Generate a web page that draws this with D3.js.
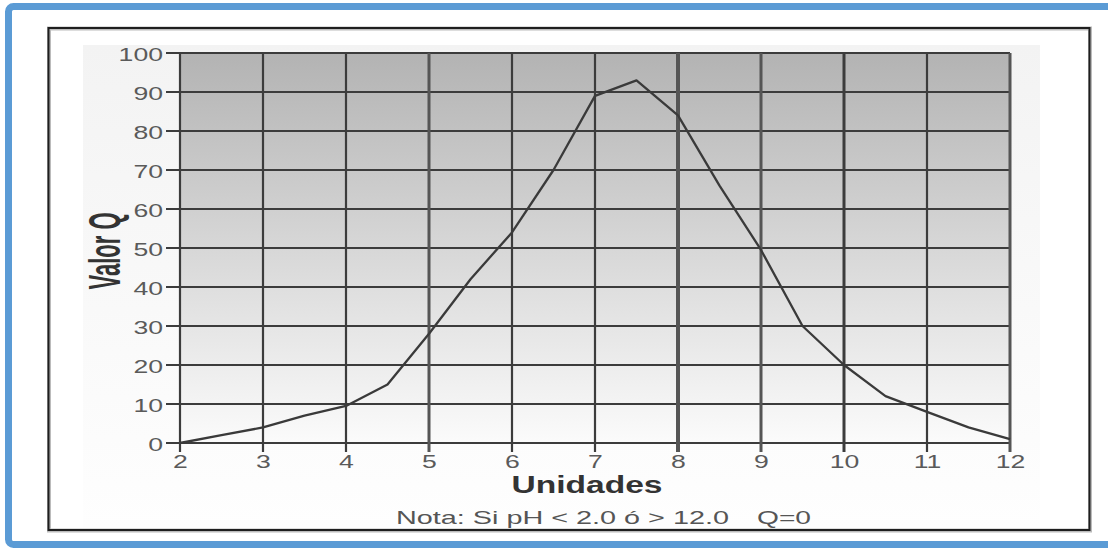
<!DOCTYPE html>
<html>
<head>
<meta charset="utf-8">
<script src="https://cdn.jsdelivr.net/npm/d3@7"></script>
<style>
  html, body { margin: 0; padding: 0; background: #fff; }
  svg { display: block; }
  text { font-family: "Liberation Sans", Arial, sans-serif; }
</style>
</head>
<body>
<svg id="chart" width="1108" height="548"></svg>
<script>
// ---- data ----
const phUnits = [2, 2.5, 3, 3.5, 4, 4.5, 5, 5.5, 6, 6.5, 7, 7.5, 8, 8.5, 9, 9.5, 10, 10.5, 11, 11.5, 12];
const qValues = [0, 2, 4, 7, 9.5, 15, 28, 42, 54, 70, 89, 93, 84, 66, 49.5, 30, 20, 12, 8, 4, 1];
const xTicks = [2, 3, 4, 5, 6, 7, 8, 9, 10, 11, 12];
const yTicks = [0, 10, 20, 30, 40, 50, 60, 70, 80, 90, 100];
const xTitle = "Unidades";
const yTitle = "Valor Q";
const noteText = "Nota: Si pH < 2.0 ó > 12.0";
const noteResult = "Q=0";

const svg = d3.select("#chart");
const x = d3.scaleLinear().domain([2, 12]).range([180, 1010]);
const y = d3.scaleLinear().domain([0, 100]).range([443, 53]);

const defs = svg.append("defs");
const g1 = defs.append("linearGradient").attr("id", "plotGrad").attr("x1", 0).attr("y1", 0).attr("x2", 0).attr("y2", 1);
g1.append("stop").attr("offset", "0%").attr("stop-color", "#b3b3b3");
g1.append("stop").attr("offset", "100%").attr("stop-color", "#fbfbfb");
const g2 = defs.append("linearGradient").attr("id", "outerGrad").attr("x1", 0).attr("y1", 0).attr("x2", 0).attr("y2", 1);
g2.append("stop").attr("offset", "0%").attr("stop-color", "#f3f3f3");
g2.append("stop").attr("offset", "100%").attr("stop-color", "#fefefe");

// blue frame (right side cut off)
svg.append("rect").attr("x", 8.5).attr("y", 6.5).attr("width", 1200).attr("height", 538)
  .attr("rx", 5).attr("fill", "none").attr("stroke", "#5b9bd5").attr("stroke-width", 7);

// black chart box
svg.append("rect").attr("x", 49).attr("y", 28.5).attr("width", 1041).attr("height", 502)
  .attr("fill", "#fff").attr("stroke", "#bbb").attr("stroke-width", 4);
svg.append("rect").attr("x", 48.5).attr("y", 28).attr("width", 1041).attr("height", 502)
  .attr("fill", "none").attr("stroke", "#1e1e1e").attr("stroke-width", 2);

// faint outer background
svg.append("rect").attr("x", 83).attr("y", 45).attr("width", 957).attr("height", 483)
  .attr("fill", "url(#outerGrad)");

// plot background
svg.append("rect").attr("x", x(2)).attr("y", y(100)).attr("width", x(12) - x(2)).attr("height", y(0) - y(100))
  .attr("fill", "url(#plotGrad)");

// horizontal grid lines
svg.append("g").selectAll("line").data(yTicks).join("line")
  .attr("x1", x(2) - 14).attr("x2", x(12))
  .attr("y1", d => y(d)).attr("y2", d => y(d))
  .attr("stroke", "#3c3c3c").attr("stroke-width", 2);

// vertical grid lines
svg.append("g").selectAll("line").data(xTicks).join("line")
  .attr("x1", d => x(d)).attr("x2", d => x(d))
  .attr("y1", y(100)).attr("y2", y(0) + 9)
  .attr("stroke", d => (d === 5 || d === 8 || d === 9 || d === 12) ? "#555" : "#3c3c3c")
  .attr("stroke-width", d => d === 8 ? 4 : (d === 5 || d === 9 || d === 10 || d === 12) ? 3 : 2.2);

// y axis labels
const yAxis = svg.append("g").attr("transform", `translate(${x(2)},0)`)
  .call(d3.axisLeft(y).tickValues(yTicks).tickSize(0).tickPadding(0));
yAxis.select(".domain").remove();
yAxis.selectAll("text")
  .attr("x", null).attr("dy", "0.36em")
  .attr("transform", "translate(-17,1) scale(1.4,1)")
  .attr("font-size", 19).attr("fill", "#5a5a5a")
  .style("font-family", "'Liberation Sans', Arial, sans-serif");

// x axis labels
const xAxis = svg.append("g").attr("transform", `translate(0,${y(0)})`)
  .call(d3.axisBottom(x).tickValues(xTicks).tickSize(0).tickPadding(0).tickFormat(d3.format("d")));
xAxis.select(".domain").remove();
xAxis.selectAll("text")
  .attr("y", null).attr("dy", "0.71em")
  .attr("transform", "translate(0,12) scale(1.4,1)")
  .attr("font-size", 19).attr("fill", "#5a5a5a")
  .style("font-family", "'Liberation Sans', Arial, sans-serif");

// curve
const line = d3.line().x((d, i) => x(phUnits[i])).y(d => y(d));
svg.append("path").datum(qValues).attr("d", line)
  .attr("fill", "none").attr("stroke", "#3a3a3a").attr("stroke-width", 2.3)
  .attr("stroke-linejoin", "round");

// titles
svg.append("text").text(xTitle)
  .attr("x", 587).attr("y", 493).attr("text-anchor", "middle")
  .attr("font-size", 23).attr("font-weight", "bold").attr("fill", "#333")
  .attr("textLength", 151).attr("lengthAdjust", "spacingAndGlyphs");

svg.append("text").text(yTitle)
  .attr("transform", "translate(120,251) scale(2,1) rotate(-90)")
  .attr("text-anchor", "middle")
  .attr("font-size", 22).attr("font-weight", "bold").attr("fill", "#333")
  .attr("textLength", 77).attr("lengthAdjust", "spacingAndGlyphs");

// note
svg.append("text").text(noteText)
  .attr("x", 396).attr("y", 524)
  .attr("font-size", 19).attr("fill", "#555")
  .attr("textLength", 333).attr("lengthAdjust", "spacingAndGlyphs");
svg.append("text").text(noteResult)
  .attr("x", 757).attr("y", 524)
  .attr("font-size", 19).attr("fill", "#555")
  .attr("textLength", 54).attr("lengthAdjust", "spacingAndGlyphs");
</script>
</body>
</html>
